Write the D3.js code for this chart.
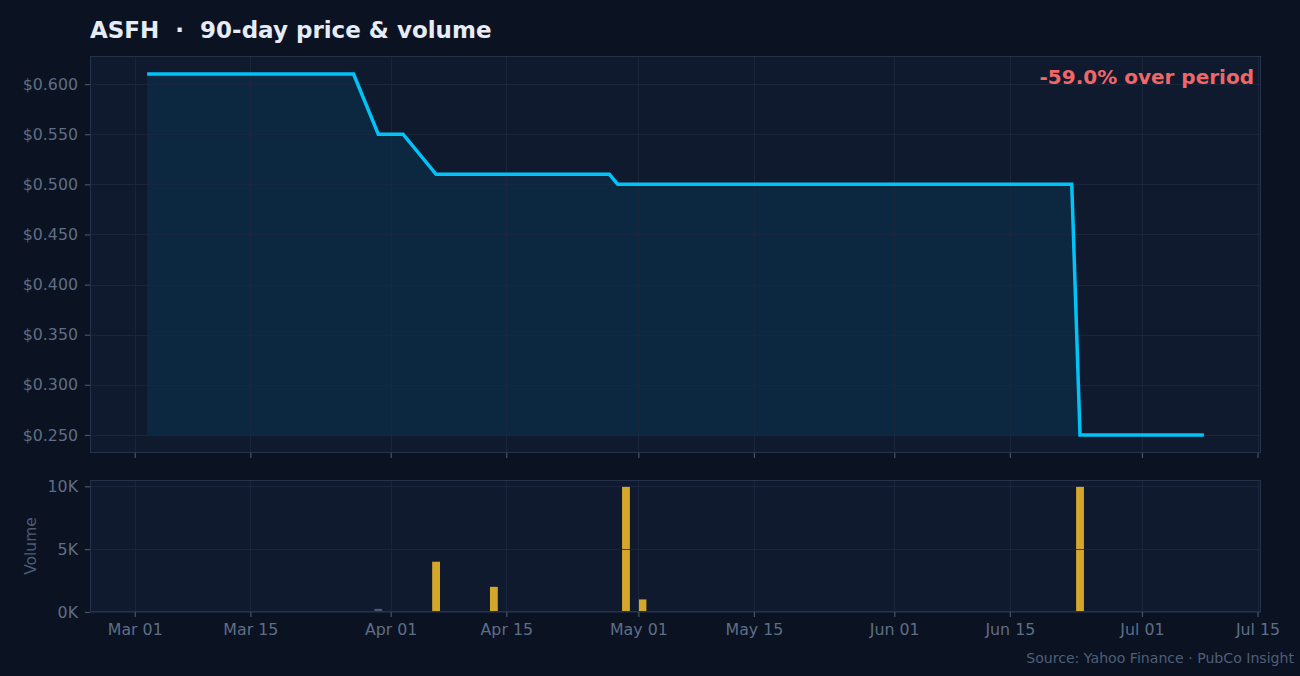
<!DOCTYPE html>
<html><head><meta charset="utf-8">
<script src="https://cdn.jsdelivr.net/npm/d3@7"></script>
<style>html,body{margin:0;padding:0;background:#0b1222;} svg{display:block;}</style>
</head><body>
<svg id="chart" width="1300" height="676"></svg>
<script>
// ---- data ----
const tradeDates = [
  "2026-03-02","2026-03-03","2026-03-04","2026-03-05","2026-03-06","2026-03-09","2026-03-10","2026-03-11","2026-03-12","2026-03-13",
  "2026-03-16","2026-03-17","2026-03-18","2026-03-19","2026-03-20","2026-03-23","2026-03-24","2026-03-25","2026-03-26","2026-03-27",
  "2026-03-30","2026-03-31","2026-04-01","2026-04-02",
  "2026-04-06","2026-04-07","2026-04-08","2026-04-09","2026-04-10","2026-04-13","2026-04-14","2026-04-15","2026-04-16","2026-04-17",
  "2026-04-20","2026-04-21","2026-04-22","2026-04-23","2026-04-24","2026-04-27",
  "2026-04-28","2026-04-29","2026-04-30","2026-05-01","2026-05-04","2026-05-05","2026-05-06","2026-05-07","2026-05-08",
  "2026-05-11","2026-05-12","2026-05-13","2026-05-14","2026-05-15","2026-05-18","2026-05-19","2026-05-20","2026-05-21","2026-05-22",
  "2026-05-26","2026-05-27","2026-05-28","2026-05-29","2026-06-01","2026-06-02","2026-06-03","2026-06-04","2026-06-05",
  "2026-06-08","2026-06-09","2026-06-10","2026-06-11","2026-06-12","2026-06-15","2026-06-16","2026-06-17","2026-06-18","2026-06-22",
  "2026-06-23","2026-06-24","2026-06-25","2026-06-26","2026-06-29","2026-06-30","2026-07-01","2026-07-02","2026-07-06","2026-07-07","2026-07-08"
];
const closePrices = [
  0.61,0.61,0.61,0.61,0.61,0.61,0.61,0.61,0.61,0.61,
  0.61,0.61,0.61,0.61,0.61,0.61,0.61,0.61,0.61,0.61,
  0.55,0.55,0.55,0.55,
  0.51,0.51,0.51,0.51,0.51,0.51,0.51,0.51,0.51,0.51,
  0.51,0.51,0.51,0.51,0.51,0.51,
  0.50,0.50,0.50,0.50,0.50,0.50,0.50,0.50,0.50,
  0.50,0.50,0.50,0.50,0.50,0.50,0.50,0.50,0.50,0.50,
  0.50,0.50,0.50,0.50,0.50,0.50,0.50,0.50,0.50,
  0.50,0.50,0.50,0.50,0.50,0.50,0.50,0.50,0.50,0.50,
  0.25,0.25,0.25,0.25,0.25,0.25,0.25,0.25,0.25,0.25,0.25
];
const volumes = [
  0,0,0,0,0,0,0,0,0,0,
  0,0,0,0,0,0,0,0,0,0,
  250,0,0,0,
  4000,0,0,0,0,2000,0,0,0,0,
  0,0,0,0,0,0,
  60,10000,0,1000,0,0,0,0,0,
  0,0,0,0,0,0,0,0,0,0,
  0,0,0,0,0,0,0,0,0,
  0,0,0,0,0,0,0,0,0,0,
  10000,0,0,0,0,0,0,0,0,0,0
];
const priceTicks = [0.25,0.30,0.35,0.40,0.45,0.50,0.55,0.60];
const volumeTicks = [0,5000,10000];
const dateTicks = ["2026-03-01","2026-03-15","2026-04-01","2026-04-15","2026-05-01","2026-05-15","2026-06-01","2026-06-15","2026-07-01","2026-07-15"];
const titleText = "ASFH  \u00b7  90-day price & volume";
const sourceText = "Source: Yahoo Finance \u00b7 PubCo Insight";
const volumeLabel = "Volume";

// ---- layout ----
const W = 1300, H = 676;
const L = 90, R = 1261;
const pTop = 56, pBot = 453;
const vTop = 480, vBot = 612;
const FONT = "'DejaVu Sans', sans-serif";
const C = {
  bg: "#0b1222", panel: "#0f1a2f", grid: "#1c283e", spine: "#25324a",
  tick: "#46546c", label: "#5e6e86", title: "#e6ecf5", line: "#00c4f8",
  fill: "#0c2740", gold: "#d4a62a", grey: "#4a5870", down: "#f06767", src: "#4f5f78"
};

const parse = d3.utcParse("%Y-%m-%d");
const dayMs = 86400000;
const pts = tradeDates.map((s, i) => ({
  t: new Date(parse(s).getTime() + dayMs / 2),
  p: closePrices[i], v: volumes[i]
}));
const barW = 0.95; // in days
const tMin = pts[0].t.getTime() - barW * dayMs / 2;
const tMax = pts[pts.length - 1].t.getTime() + barW * dayMs / 2;
const span = tMax - tMin;
const x = d3.scaleUtc().domain([new Date(tMin - 0.05 * span), new Date(tMax + 0.05 * span)]).range([L, R]);

const pMin = d3.min(closePrices), pMax = d3.max(closePrices);
const pPad = (pMax - pMin) * 0.05;
const yP = d3.scaleLinear().domain([pMin - pPad, pMax + pPad]).range([pBot, pTop]);
const vMax = d3.max(volumes);
const yV = d3.scaleLinear().domain([0, vMax * 1.05]).range([vBot, vTop]);

const svg = d3.select("#chart");
svg.append("rect").attr("width", W).attr("height", H).attr("fill", C.bg);

// panels
svg.append("rect").attr("x", L).attr("y", pTop).attr("width", R - L).attr("height", pBot - pTop).attr("fill", C.panel);
svg.append("rect").attr("x", L).attr("y", vTop).attr("width", R - L).attr("height", vBot - vTop).attr("fill", C.panel);

// price fill
const area = d3.area().x(d => x(d.t)).y0(yP(pMin)).y1(d => yP(d.p));
svg.append("path").datum(pts).attr("d", area).attr("fill", C.fill);

// volume bars
const meanVol = d3.mean(volumes);
const bw = x(new Date(barW * dayMs)) - x(new Date(0));
svg.append("g").selectAll("rect").data(pts).join("rect")
  .attr("x", d => x(d.t) - bw / 2)
  .attr("width", bw)
  .attr("y", d => yV(d.v))
  .attr("height", d => yV(0) - yV(d.v))
  .attr("fill", d => d.v > meanVol ? C.gold : C.grey);

// grids
const tickDates = dateTicks.map(s => parse(s));
function vgrid(top, bot) {
  svg.append("g").selectAll("line").data(tickDates).join("line")
    .attr("x1", d => Math.round(x(d)) + 0.5).attr("x2", d => Math.round(x(d)) + 0.5)
    .attr("y1", top).attr("y2", bot).attr("stroke", C.grid).attr("stroke-width", 1).attr("stroke-opacity", 0.85);
}
vgrid(pTop, pBot); vgrid(vTop, vBot);
svg.append("g").selectAll("line").data(priceTicks).join("line")
  .attr("x1", L).attr("x2", R)
  .attr("y1", d => Math.round(yP(d)) + 0.5).attr("y2", d => Math.round(yP(d)) + 0.5)
  .attr("stroke", C.grid).attr("stroke-opacity", 0.85);
svg.append("g").selectAll("line").data(volumeTicks).join("line")
  .attr("x1", L).attr("x2", R)
  .attr("y1", d => Math.round(yV(d)) + 0.5).attr("y2", d => Math.round(yV(d)) + 0.5)
  .attr("stroke", C.grid).attr("stroke-opacity", 0.85);

// price line
const line = d3.line().x(d => x(d.t)).y(d => yP(d.p));
svg.append("path").datum(pts).attr("d", line).attr("fill", "none")
  .attr("stroke", C.line).attr("stroke-width", 3.5).attr("stroke-linejoin", "miter");

// spines
svg.append("rect").attr("x", L + 0.5).attr("y", pTop + 0.5).attr("width", R - L - 1).attr("height", pBot - pTop - 1)
  .attr("fill", "none").attr("stroke", C.spine);
svg.append("rect").attr("x", L + 0.5).attr("y", vTop + 0.5).attr("width", R - L - 1).attr("height", vBot - vTop - 1)
  .attr("fill", "none").attr("stroke", C.spine);

// axes
function styleAxis(g, hideText) {
  g.select(".domain").remove();
  g.selectAll(".tick line").attr("stroke", C.tick).attr("stroke-width", 1.2);
  g.selectAll(".tick text").attr("fill", C.label).attr("font-family", FONT).attr("font-size", 15.8);
  if (hideText) g.selectAll(".tick text").remove();
}
const yAxisP = d3.axisLeft(yP).tickValues(priceTicks).tickFormat(d => "$" + d.toFixed(3)).tickSize(5).tickPadding(7);
svg.append("g").attr("transform", `translate(${L},0)`).call(yAxisP).call(g => styleAxis(g));
const yAxisV = d3.axisLeft(yV).tickValues(volumeTicks).tickFormat(d => (d / 1000) + "K").tickSize(5).tickPadding(7);
svg.append("g").attr("transform", `translate(${L},0)`).call(yAxisV).call(g => styleAxis(g));
const xAxisTop = d3.axisBottom(x).tickValues(tickDates).tickSize(5);
svg.append("g").attr("transform", `translate(0,${pBot})`).call(xAxisTop).call(g => styleAxis(g, true));
const xAxisBot = d3.axisBottom(x).tickValues(tickDates).tickFormat(d3.utcFormat("%b %d")).tickSize(5).tickPadding(7);
svg.append("g").attr("transform", `translate(0,${vBot})`).call(xAxisBot).call(g => styleAxis(g));

// volume label
svg.append("text").attr("transform", `translate(36,${(vTop + vBot) / 2}) rotate(-90)`)
  .attr("text-anchor", "middle").attr("fill", "#4d5c74").attr("font-family", FONT).attr("font-size", 15.5)
  .text(volumeLabel);

// title
svg.append("text").attr("x", 90).attr("y", 38).attr("fill", C.title).attr("font-family", FONT)
  .attr("font-weight", "bold").attr("font-size", 23).style("white-space", "pre").text(titleText);

// change annotation
const chg = (closePrices[closePrices.length - 1] / closePrices[0] - 1) * 100;
svg.append("text").attr("x", 1254).attr("y", 84).attr("text-anchor", "end").attr("fill", C.down)
  .attr("font-family", FONT).attr("font-weight", "bold").attr("font-size", 20)
  .text((chg >= 0 ? "+" : "") + chg.toFixed(1) + "% over period");

// source
svg.append("text").attr("x", 1294).attr("y", 663).attr("text-anchor", "end").attr("fill", C.src)
  .attr("font-family", FONT).attr("font-size", 14.1).text(sourceText);
</script>
</body></html>
